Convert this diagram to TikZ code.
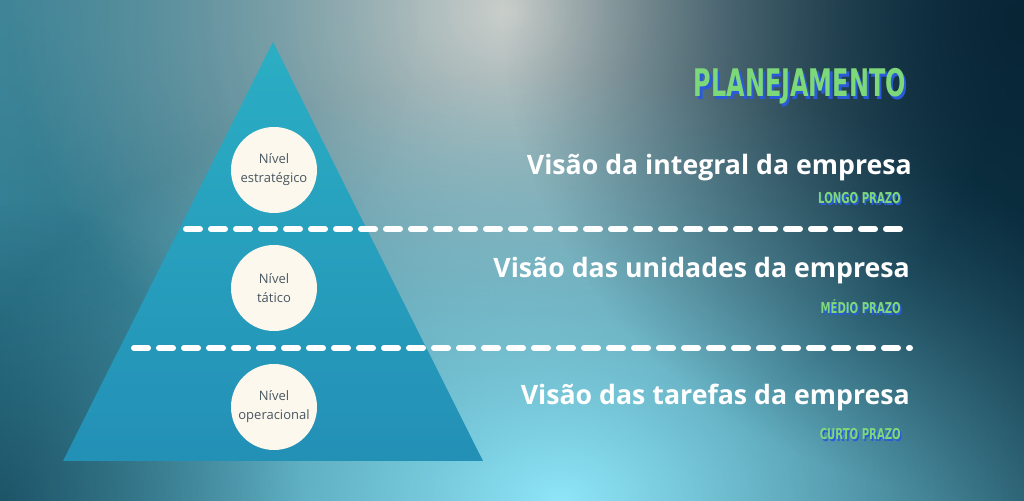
\documentclass[tikz,border=0pt]{standalone}
\usepackage{fontspec}
\setmainfont{Open Sans}
\newfontfamily\titlefont{DejaVu Sans}
\usetikzlibrary{fadings,positioning}

\definecolor{bgleft}{HTML}{2A7A90}
\definecolor{bgmid}{HTML}{4590A2}
\definecolor{bgright}{HTML}{0E3A4C}
\definecolor{glowgrey}{HTML}{DEDCD6}
\definecolor{glowcyan}{HTML}{8EE6F8}
\definecolor{glowdark}{HTML}{082536}
\definecolor{glowleft}{HTML}{6B9DA8}
\definecolor{pyrtop}{HTML}{2BAEC4}
\definecolor{pyrbot}{HTML}{2390B6}
\definecolor{cream}{HTML}{FDF8EE}
\definecolor{circtext}{HTML}{475761}
\definecolor{titlegreen}{HTML}{7DD87A}
\definecolor{titleblue}{HTML}{2B5AD8}

\tikzfading[name=softglow, inner color=transparent!0, outer color=transparent!100]

% texto estreito com sombra azul
\newcommand{\squeeze}[3]{\makebox[0pt][l]{\hspace{#3}\raisebox{-#3}{\color{titleblue}\scalebox{#1}[1]{\titlefont\bfseries #2}}}%
  \scalebox{#1}[1]{\titlefont\bfseries #2}}

\tikzset{
  nivel/.style={circle, fill=cream, minimum size=86pt, inner sep=0pt, align=center,
    font=\fontsize{13}{19}\selectfont, text=circtext},
  visao/.style={anchor=base east, text=white, inner sep=0pt,
    font=\fontsize{26.7}{30}\selectfont\bfseries},
  prazo/.style={anchor=base east, inner sep=0pt, text=titlegreen,
    font=\fontsize{15}{18}\selectfont},
  divisa/.style={white, line width=6pt, line cap=round, dash pattern=on 14pt off 11pt}
}

\begin{document}
\begin{tikzpicture}[x=1pt, y=1pt]
\useasboundingbox (0,0) rectangle (1024,500);
% fundo
\shade[left color=bgleft, middle color=bgmid, right color=bgright] (0,0) rectangle (1024,500);
\fill[glowgrey, opacity=.9, path fading=softglow] (510,490) ellipse (500 and 440);
\fill[glowcyan, path fading=softglow] (560,0) ellipse (620 and 430);
\fill[glowdark, path fading=softglow] (1024,480) ellipse (520 and 480);
\fill[glowleft, opacity=.35, path fading=softglow] (20,500) ellipse (400 and 400);
\fill[glowdark, opacity=.5, path fading=softglow] (0,0) ellipse (300 and 300);

% piramide
\shade[top color=pyrtop, bottom color=pyrbot] (63,39) -- (483,39) -- (273,458) -- cycle;

\node[nivel] (strat) at (274,330) {Nível\\estratégico};
\node[nivel] (tat)   at (274,212) {Nível\\tático};
\node[nivel] (oper)  at (274,93)  {Nível\\operacional};

\coordinate (d1a) at (186,271);
\coordinate (d1b) at (902,271);
\coordinate (d2a) at (134,152);
\coordinate (d2b) at (910,152);
\draw[divisa] (d1a) -- (d1b);
\draw[divisa] (d2a) -- (d2b);

% titulo
\node[prazo, font=\fontsize{38}{40}\selectfont] (titulo) at (906,403)
  {\squeeze{0.63}{PLANEJAMENTO}{2.5pt}};

% textos
\node[visao] (vis1) at (912,325) {Visão da integral da empresa};
\node[visao] (vis2) at (910,222) {Visão das unidades da empresa};
\node[visao] (vis3) at (910,95)  {Visão das tarefas da empresa};

\node[prazo] (longo) at (901,296) {\squeeze{0.675}{LONGO PRAZO}{1.5pt}};
\node[prazo] (medio) at (901,186) {\squeeze{0.675}{MÉDIO PRAZO}{1.5pt}};
\node[prazo] (curto) at (901,60)  {\squeeze{0.675}{CURTO PRAZO}{1.5pt}};
\end{tikzpicture}
\end{document}
